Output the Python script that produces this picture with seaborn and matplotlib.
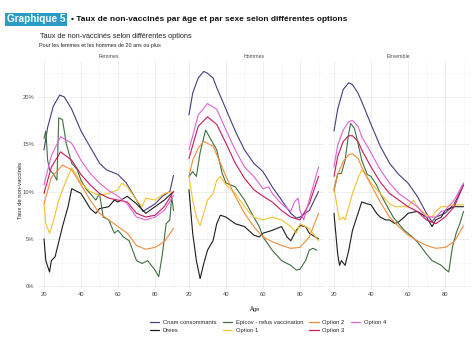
import matplotlib
matplotlib.use("Agg")
import matplotlib.pyplot as plt
import seaborn as sns
import pandas as pd
from matplotlib.ticker import MultipleLocator, FuncFormatter
from matplotlib.font_manager import fontManager

# ---------------- data (age, % non vaccinés) ----------------
series_names = ["Cnam consommants", "Drees", "Epicov - refus vaccination",
                "Option 1", "Option 2", "Option 3", "Option 4"]
panels = ["Femmes", "Hommes", "Ensemble"]

femmes_cnam = [(20,14.4),(22,16.8),(25,19.0),(28.5,20.2),(31,20.0),(35,18.7),(40,16.4),(44.7,14.8),
               (50,13.0),(53.7,12.3),(60,11.8),(64.5,10.9),(70,9.1),(73.5,7.9),(80,8.7),(84,9.5),(88,10.0),(90,11.7)]
femmes_opt4 = [(20,10.7),(24,13.8),(29,15.8),(35,15.1),(40,13.3),(45,11.9),(50,10.9),(55,10.1),(60,9.5),
               (65,8.7),(70,7.3),(75,7.0),(80,7.3),(85,8.0),(90,9.6)]
femmes_opt3 = [(20,9.8),(24,12.6),(29,14.2),(35,13.3),(40,11.8),(45,10.7),(50,9.8),(55,9.3),(60,9.1),
               (65,8.9),(70,7.7),(75,7.3),(80,7.5),(85,8.4),(90,10.0)]
femmes_opt2 = [(20,8.7),(24,11.5),(30,12.8),(35,12.3),(40,10.7),(45,9.1),(50,7.7),(55,7.0),(60,6.3),
               (65,5.6),(70,4.3),(75,3.9),(80,4.1),(85,4.7),(90,6.1)]
femmes_opt1 = [(20,8.7),(21,6.6),(23,5.6),(25,6.8),(28,9.1),(32,11.2),(35,12.5),(37,11.9),(40,10.9),
               (45,10.0),(50,9.6),(55,9.8),(60,10.2),(62,10.9),(65,10.5),(70,9.1),(73,8.4),(75,9.3),
               (80,9.1),(85,9.8),(90,10.0)]
femmes_drees = [(20,5.0),(21,2.7),(23,1.5),(24,2.7),(26,3.1),(30,6.3),(33,8.4),(35,10.3),(40,9.8),
                (45,8.2),(48,7.7),(50,8.2),(55,8.4),(58,9.1),(60,8.9),(65,9.5),(70,8.7),(75,7.7),
                (80,8.4),(85,9.1),(90,10.0)]
femmes_epicov = [(20,15.6),(21,16.4),(22,13.3),(23,12.3),(25,11.9),(27,11.2),(28,17.8),(30,17.6),(32,15.1),
                 (35,13.0),(38,12.3),(40,11.2),(43,10.2),(45,9.8),(48,9.1),(50,9.8),(52,7.3),(55,7.0),
                 (58,5.6),(60,5.9),(63,5.2),(66,4.8),(70,2.7),(73,2.4),(76,2.7),(80,1.7),(82,1.0),
                 (84,3.4),(86,6.6),(88,7.0),(89,9.5),(90,8.0)]

hommes_cnam = [(20,18.1),(22,20.4),(25,22.0),(28,22.7),(30,22.5),(33,22.0),(35,21.0),(40,18.7),(45,16.4),
               (50,14.4),(55,13.0),(60,12.1),(65,10.5),(70,9.1),(75,7.7),(78,7.2),(80,7.3),(85,8.0),(90,10.0)]
hommes_opt4 = [(20,14.4),(25,18.1),(30,19.3),(35,18.7),(40,16.5),(45,14.4),(50,12.6),(55,11.6),(60,10.3),
               (63,10.5),(65,9.8),(70,8.7),(75,7.9),(77,8.9),(79,9.3),(80,8.0),(82,7.0),(85,9.1),(90,12.6)]
hommes_opt3 = [(20,13.5),(25,16.9),(30,17.9),(35,17.1),(40,15.1),(45,13.0),(50,11.4),(55,10.2),(60,9.5),
               (65,8.9),(70,8.0),(75,7.3),(80,7.0),(85,8.7),(90,11.6)]
hommes_opt2 = [(20,11.6),(22,13.3),(25,14.6),(28,15.3),(30,15.1),(33,14.8),(35,13.9),(40,11.6),(45,9.5),
               (50,7.7),(55,6.3),(60,5.2),(65,4.7),(70,4.3),(75,4.0),(80,4.1),(85,5.2),(90,7.7)]
hommes_opt1 = [(20,11.6),(22,9.1),(24,7.3),(26,6.4),(28,7.7),(30,9.1),(33,9.8),(35,11.2),(37,11.6),
               (40,10.7),(45,9.8),(50,8.4),(53,7.7),(55,7.3),(60,7.0),(65,7.3),(70,7.0),(75,6.3),
               (78,5.6),(80,6.6),(85,6.1),(90,4.8)]
hommes_drees = [(20,10.2),(22,5.6),(24,2.7),(26,0.8),(28,2.4),(30,3.8),(33,4.8),(35,6.6),(37,7.5),
                (40,7.3),(45,6.6),(50,6.3),(55,5.4),(58,5.2),(60,5.6),(65,5.9),(70,6.3),(73,5.2),
                (75,4.8),(78,5.9),(80,6.4),(83,6.3),(85,5.6),(90,5.0)]
hommes_epicov = [(20,11.6),(22,12.1),(24,11.6),(26,14.1),(29,16.5),(31,15.8),(33,15.1),(35,14.4),(38,11.9),
                 (40,10.9),(45,10.5),(50,9.1),(55,7.3),(58,6.3),(60,5.2),(65,3.8),(70,2.7),(75,2.2),
                 (78,1.7),(80,1.8),(83,2.7),(85,3.8),(87,4.0),(89,3.8)]

ensemble_cnam = [(20,16.4),(22,18.7),(25,20.8),(28,21.5),(30,21.3),(33,20.4),(35,19.5),(40,17.1),(45,14.8),
                 (50,13.0),(55,11.8),(60,10.9),(65,9.5),(70,7.7),(73,6.8),(75,7.3),(80,7.7),(85,8.7),(90,10.7)]
ensemble_opt4 = [(20,12.6),(22,14.9),(25,16.5),(28,17.4),(30,17.5),(33,16.9),(35,15.8),(40,14.1),(45,12.3),
                 (50,10.9),(55,9.8),(60,9.1),(65,8.4),(70,7.3),(75,7.3),(78,7.9),(80,8.0),(85,9.1),(90,10.9)]
ensemble_opt3 = [(20,11.6),(22,13.7),(25,15.3),(28,15.9),(30,15.9),(33,15.3),(35,14.4),(40,12.6),(45,11.0),
                 (50,9.8),(55,9.1),(60,8.4),(65,7.9),(70,7.0),(75,6.6),(80,7.3),(85,8.4),(90,10.7)]
ensemble_opt2 = [(20,10.0),(22,11.8),(25,13.2),(28,13.9),(30,14.0),(33,13.5),(35,12.6),(40,10.7),(45,8.9),
                 (50,7.3),(55,6.3),(60,5.4),(65,4.8),(70,4.3),(75,4.0),(80,4.1),(85,4.7),(90,6.4)]
ensemble_opt1 = [(20,10.5),(22,8.0),(23,7.0),(25,7.3),(26,7.0),(28,8.4),(30,9.8),(33,11.4),(35,12.3),
                 (37,11.8),(40,10.9),(45,9.8),(50,8.7),(53,8.4),(55,8.4),(60,8.4),(63,9.1),(65,8.4),
                 (70,7.5),(73,7.3),(75,7.9),(78,8.4),(80,8.4),(85,8.6),(90,8.6)]
ensemble_drees = [(20,7.7),(22,3.4),(23,2.2),(24,2.7),(26,2.2),(28,3.8),(30,5.9),(33,7.7),(35,8.9),
                  (38,8.7),(40,8.6),(43,7.7),(45,7.3),(48,7.0),(50,7.0),(53,6.6),(55,6.8),(58,7.3),
                  (60,7.7),(65,7.9),(70,7.3),(73,6.3),(75,7.0),(78,7.3),(80,8.0),(85,8.4),(90,8.4)]
ensemble_epicov = [(20,10.2),(22,11.9),(24,11.9),(26,13.3),(28,16.2),(29,17.2),(31,16.7),(33,15.1),(35,13.3),
                   (38,11.8),(40,11.6),(43,10.7),(45,9.8),(48,8.7),(50,8.0),(52,7.3),(55,6.6),(58,5.9),
                   (60,5.6),(65,4.7),(70,3.4),(73,2.7),(75,2.5),(78,2.2),(80,1.8),(82,1.5),(84,4.1),
                   (86,5.6),(88,6.6),(90,7.9)]

x_ticks = [20, 40, 60, 80]
y_ticks = [0, 5, 10, 15, 20]

# ---------------- build long table ----------------
table = {
    "Femmes": [femmes_cnam, femmes_drees, femmes_epicov, femmes_opt1, femmes_opt2, femmes_opt3, femmes_opt4],
    "Hommes": [hommes_cnam, hommes_drees, hommes_epicov, hommes_opt1, hommes_opt2, hommes_opt3, hommes_opt4],
    "Ensemble": [ensemble_cnam, ensemble_drees, ensemble_epicov, ensemble_opt1, ensemble_opt2, ensemble_opt3, ensemble_opt4],
}
rows = []
for p in panels:
    for name, pts in zip(series_names, table[p]):
        for a, v in pts:
            rows.append({"panel": p, "serie": name, "age": a, "taux": v})
df = pd.DataFrame(rows)

colors = ["#4b3b7c", "#1c1c1c", "#3f6f42", "#f2c230", "#f28c3a", "#c71a5c", "#dd62d8"]
palette = dict(zip(series_names, colors))

sns.set_theme(style="whitegrid")
plt.rcParams["font.family"] = ["Liberation Sans", "DejaVu Sans"]

installed = {f.name for f in fontManager.ttflist}
narrow = "Liberation Sans Narrow" if "Liberation Sans Narrow" in installed else None

fig = plt.figure(figsize=(4.74, 3.39), dpi=100)
W, H = 474.0, 339.0
lefts = [37.5, 182.5, 327.5]
pw = 142.5
top_px, bot_px = 61.0, 289.0

grid_col = "#ebebeb"
axes = []
for i, p in enumerate(panels):
    ax = fig.add_axes([lefts[i] / W, 1 - bot_px / H, pw / W, (bot_px - top_px) / H])
    axes.append(ax)
    sub = df[df.panel == p]
    sns.lineplot(data=sub, x="age", y="taux", hue="serie", hue_order=series_names,
                 palette=palette, estimator=None, sort=False, linewidth=0.8,
                 legend=False, ax=ax)
    ax.set_xlim(16.5, 93.5)
    ax.set_ylim(-0.3, 23.8)
    ax.set_facecolor("white")
    for s in ax.spines.values():
        s.set_visible(False)
    ax.xaxis.set_minor_locator(MultipleLocator(10))
    ax.yaxis.set_minor_locator(MultipleLocator(2.5))
    ax.set_xticks(x_ticks)
    ax.set_yticks(y_ticks)
    ax.grid(which="major", color=grid_col, linewidth=0.6)
    ax.grid(which="minor", color="#f4f4f4", linewidth=0.4)
    ax.tick_params(axis="both", which="both", length=0, labelsize=4.2, labelcolor="#4d4d4d", pad=2)
    ax.set_xlabel("")
    ax.set_ylabel("")
    ax.yaxis.set_major_formatter(FuncFormatter(lambda v, pos: f"{int(v)}%"))
    if i > 0:
        ax.tick_params(axis="y", labelleft=False)
    ax.set_title(p, fontsize=3.8, color="#4d4d4d", pad=2.5)
    ax.set_axisbelow(True)

fig.text(20 / W, 1 - 190 / H, "Taux de non-vaccinés", rotation=90, fontsize=4.2,
         color="#222222", ha="center", va="center")
fig.text(255 / W, 1 - 309 / H, "Âge", fontsize=4.2, color="#222222", ha="center", va="center")

# titles
fig.text(7 / W, 1 - 19.5 / H, "Graphique 5", fontsize=7.2, fontweight="bold", color="white",
         ha="left", va="center",
         bbox=dict(boxstyle="square,pad=0.18", facecolor="#2a9bc3", edgecolor="none"))
title = "• Taux de non-vaccinés par âge et par sexe selon différentes options"
if narrow:
    fig.text(71 / W, 1 - 19.5 / H, title, fontsize=7.4, fontweight="bold", color="#111111",
             ha="left", va="center", family=[narrow, "Liberation Sans", "DejaVu Sans"])
else:
    fig.text(71 / W, 1 - 19.5 / H, title, fontsize=6.0, fontweight="bold", color="#111111",
             ha="left", va="center")
fig.text(40 / W, 1 - 37 / H, "Taux de non-vaccinés selon différentes options",
         fontsize=5.3, color="#222222", ha="left", va="center")
fig.text(39 / W, 1 - 46 / H, "Pour les femmes et les hommes de 20 ans ou plus",
         fontsize=3.9, color="#222222", ha="left", va="center")

# legend
from matplotlib.lines import Line2D
handles = [Line2D([0], [0], color=palette[n], linewidth=0.9) for n in series_names]
fig.legend(handles, series_names, ncol=4, loc="center", bbox_to_anchor=(268 / W, 1 - 326.5 / H),
           frameon=False, fontsize=4.2, handlelength=1.6, handletextpad=0.6,
           columnspacing=1.1, labelspacing=0.35, borderaxespad=0)

fig.savefig("out.png", dpi=100, facecolor="white")
